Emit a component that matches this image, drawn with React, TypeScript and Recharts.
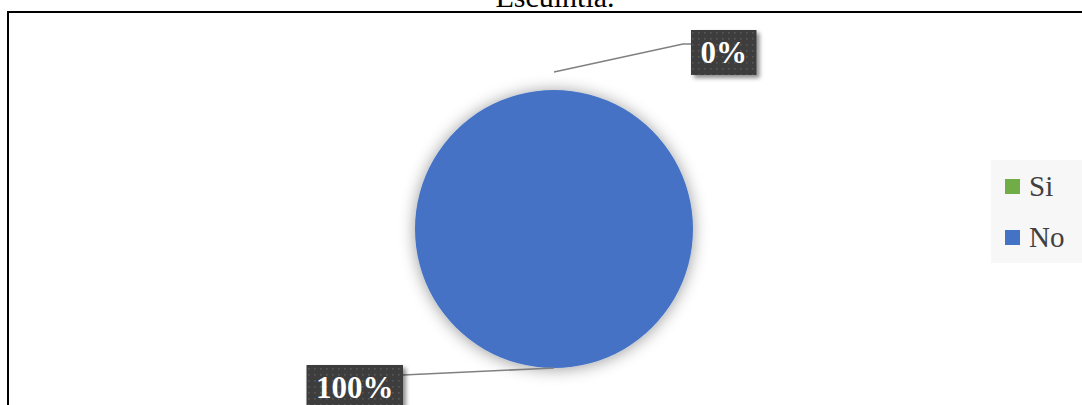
import { PieChart, Pie, Cell, Legend } from "recharts";

// Respuestas del gráfico
const categories = ["Si", "No"];
const values = [0, 100];
const sliceColors = ["#70AD47", "#4472C4"];
const chartTitle = "Escuintla.";

const data = categories.map((name, i) => ({ name, value: values[i] }));

const W = 1082;
const H = 405;
const SERIF = '"Liberation Serif", "Times New Roman", serif';

// posición de cada etiqueta respecto al borde del sector
const LABEL_LAYOUT = [
  { gap: 18, elbowDx: 129, elbowDy: -28, boxDx: 137, boxTopDy: -42, side: "right" },
  { gap: 0, elbowDx: -151, elbowDy: 7, boxDx: -151, boxTopDy: -3, side: "left" },
];

const LABEL_FONT = 31;

function textWidth(text: string) {
  let em = 0;
  for (const ch of text) em += ch === "%" ? 1 : 0.5;
  return em * LABEL_FONT + 19;
}

function renderLabel(props: any) {
  const { cx, cy, outerRadius, midAngle, index, percent } = props;
  const lay = LABEL_LAYOUT[index];
  if (!lay) return null;
  const RAD = Math.PI / 180;
  const r0 = outerRadius + lay.gap;
  const sx = cx + r0 * Math.cos(-midAngle * RAD);
  const sy = cy + r0 * Math.sin(-midAngle * RAD);
  const ex = sx + lay.elbowDx;
  const ey = sy + lay.elbowDy;
  const text = `${Math.round((percent ?? 0) * 100)}%`;
  const bw = textWidth(text);
  const bh = 45;
  const edge = sx + lay.boxDx;
  const bx = lay.side === "right" ? edge : edge - bw;
  const by = sy + lay.boxTopDy;

  return (
    <g key={`lbl-${index}`}>
      <polyline
        points={`${sx},${sy} ${ex},${ey} ${edge},${ey}`}
        fill="none"
        stroke="#808080"
        strokeWidth={1.6}
      />
      <rect
        x={bx}
        y={by}
        width={bw}
        height={bh}
        fill="url(#darkDots)"
        filter="url(#boxShadow)"
      />
      <text
        x={bx + bw / 2}
        y={by + 33}
        textAnchor="middle"
        fill="#ffffff"
        fontFamily={SERIF}
        fontWeight="bold"
        fontSize={LABEL_FONT}
      >
        {text}
      </text>
    </g>
  );
}

function LegendBox(props: any) {
  // mismo orden que las categorías
  const payload = [...(props.payload ?? [])].sort(
    (a: any, b: any) => categories.indexOf(a.value) - categories.indexOf(b.value)
  );
  return (
    <div
      style={{
        background: "#f7f7f7",
        width: 91,
        height: 103,
        display: "flex",
        flexDirection: "column",
        justifyContent: "center",
      }}
    >
      {payload.map((entry: any) => (
        <div
          key={entry.value}
          style={{
            height: 51,
            display: "flex",
            alignItems: "center",
            fontFamily: SERIF,
            fontSize: 29,
            color: "#404040",
          }}
        >
          <span
            style={{
              display: "inline-block",
              width: 15,
              height: 15,
              marginLeft: 14,
              marginRight: 9,
              background: entry.color,
            }}
          />
          {entry.value}
        </div>
      ))}
    </div>
  );
}

export default function App() {
  return (
    <div
      style={{
        position: "fixed",
        left: 0,
        top: 0,
        width: W,
        height: H,
        overflow: "hidden",
        background: "#ffffff",
      }}
    >
      <svg width={W} height={H} style={{ position: "absolute", left: 0, top: 0 }}>
        <defs>
          <pattern id="darkDots" width="6" height="6" patternUnits="userSpaceOnUse">
            <rect width="6" height="6" fill="#3d3d3d" />
            <rect x="2" y="2" width="1.6" height="1.6" fill="#595959" />
          </pattern>
          <filter id="boxShadow" x="-20%" y="-20%" width="150%" height="160%">
            <feDropShadow dx="3" dy="3" stdDeviation="2" floodColor="#000" floodOpacity="0.45" />
          </filter>
          <filter id="pieGlow" x="-20%" y="-20%" width="140%" height="140%">
            <feDropShadow dx="0" dy="1" stdDeviation="8" floodColor="#000" floodOpacity="0.4" />
          </filter>
        </defs>
        <rect x={8} y={12} width={1090} height={420} fill="none" stroke="#000" strokeWidth={2} />
        <text x={555} y={7} textAnchor="middle" fontFamily={SERIF} fontSize={30} fill="#000">
          {chartTitle}
        </text>
      </svg>
      <div style={{ position: "absolute", left: 0, top: 0 }}>
        <PieChart width={W} height={H} margin={{ top: 0, right: 0, bottom: 0, left: 0 }}>
          <Pie
            data={data}
            dataKey="value"
            nameKey="name"
            cx={554}
            cy={229}
            outerRadius={139}
            startAngle={90}
            endAngle={-270}
            stroke="none"
            label={renderLabel}
            labelLine={false}
            isAnimationActive={false}
          >
            {data.map((d, i) => (
              <Cell key={d.name} fill={sliceColors[i]} style={{ filter: "url(#pieGlow)" }} />
            ))}
          </Pie>
          <Legend
            layout="vertical"
            align="right"
            verticalAlign="middle"
            content={<LegendBox />}
            wrapperStyle={{ position: "absolute", left: 991, top: 160, width: 91, height: 103 }}
          />
        </PieChart>
      </div>
    </div>
  );
}
